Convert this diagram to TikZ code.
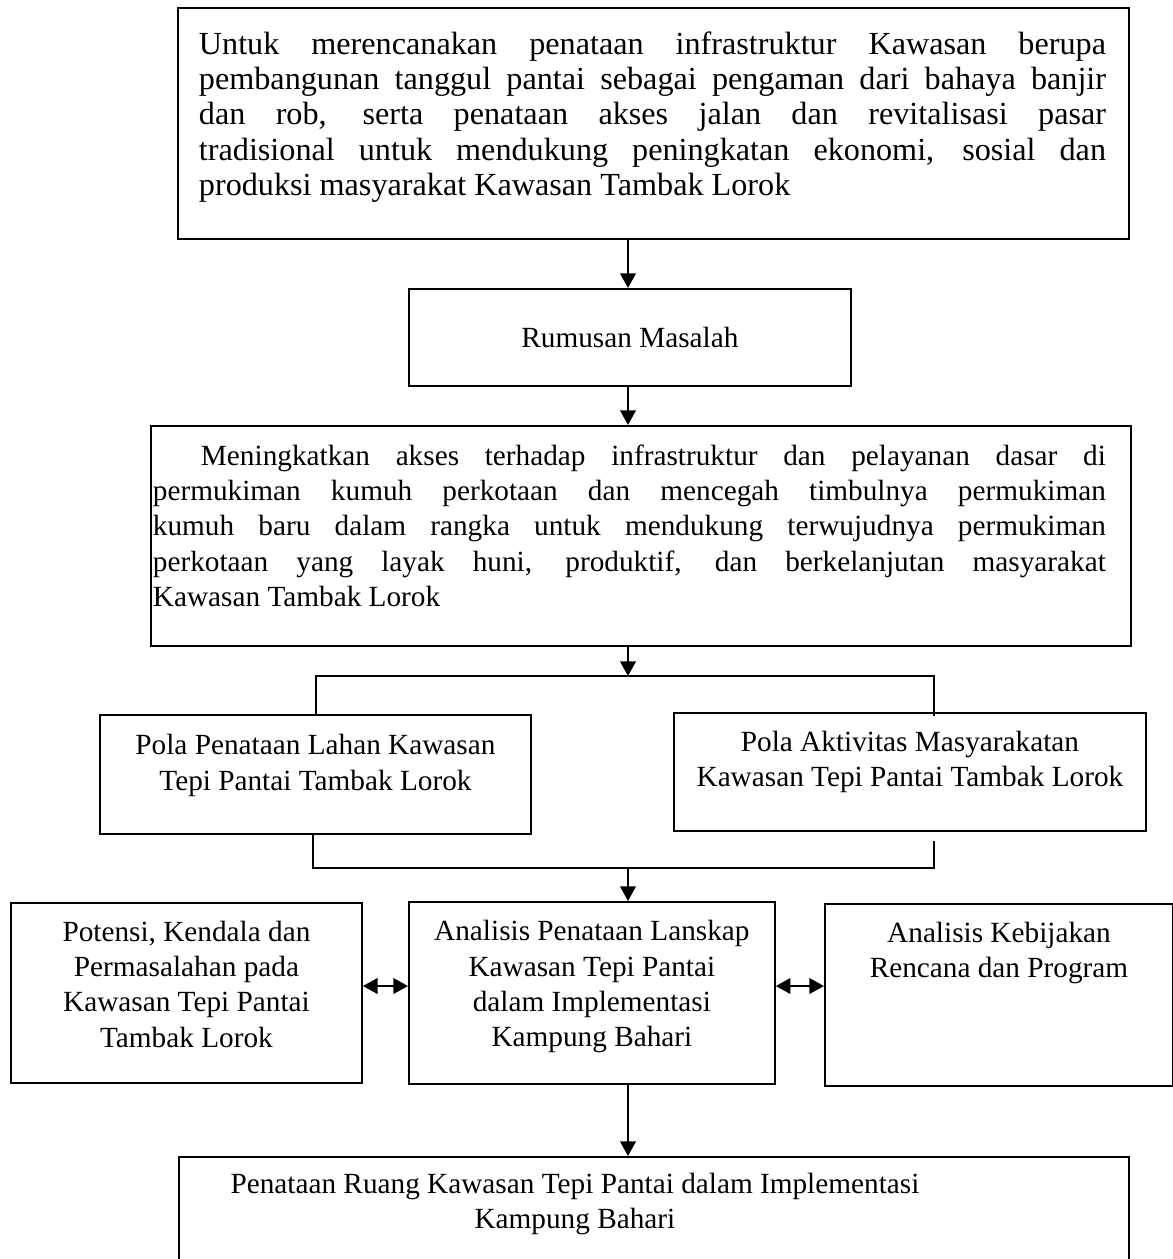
\documentclass[tikz,border=0pt]{standalone}
\usepackage{fontspec}
\setmainfont{Liberation Serif}
\usetikzlibrary{arrows.meta}
\usetikzlibrary{positioning}

% fixed-size cell: width, height, first baseline, alignment, text
\newcommand{\cellbox}[5]{\parbox[c][#2][t]{#1}{#4\rule{0pt}{#3}#5}}
\newcommand{\justtext}[2]{\leftskip=#1\relax\rightskip=#2\relax\tolerance=10000\hyphenpenalty=10000\relax}

\begin{document}
\begin{tikzpicture}[
  x = 0.41pt, y = -0.41pt,
  > = {Triangle[length=6pt,width=6.4pt]},
  box/.style = {draw, line width=0.8pt, inner sep=0pt, anchor=north west,
                font=\fontsize{12}{14.5}\selectfont},
  link/.style = {line width=0.8pt}
  ]
  \useasboundingbox (0,0) rectangle (1173,1259);

  \node[box,font=\fontsize{13.2}{14.5}\selectfont] (goal) at (177,7) {\cellbox{389.9pt}{94.7pt}{18.9pt}{\justtext{8.6pt}{9.4pt}}{%
    Untuk merencanakan penataan infrastruktur Kawasan berupa\linebreak
    pembangunan tanggul pantai sebagai pengaman dari bahaya banjir\linebreak
    dan rob, serta penataan akses jalan dan revitalisasi pasar\linebreak
    tradisional untuk mendukung peningkatan ekonomi, sosial dan\linebreak
    produksi masyarakat Kawasan Tambak Lorok}};
  \node[box] (problem) at (408,288) {\cellbox{181.2pt}{39.8pt}{23.8pt}{\centering}{Rumusan Masalah}};
  \node[box] (aim) at (150,425) {\cellbox{401.8pt}{90.2pt}{16pt}{\justtext{0.8pt}{10.3pt}}{%
    \hspace*{19.7pt}Meningkatkan akses terhadap infrastruktur dan pelayanan dasar di\linebreak
    permukiman kumuh perkotaan dan mencegah timbulnya permukiman\linebreak
    kumuh baru dalam rangka untuk mendukung terwujudnya permukiman\linebreak
    perkotaan yang layak huni, produktif, dan berkelanjutan masyarakat\linebreak
    Kawasan Tambak Lorok}};

  \node[box] (land) at (99,714) {\cellbox{176.7pt}{48.8pt}{16.4pt}{\centering}{Pola Penataan Lahan Kawasan\\ Tepi Pantai Tambak Lorok}};
  \node[box] (activity) at (673,712) {\cellbox{193.5pt}{48.4pt}{15.6pt}{\centering}{Pola Aktivitas Masyarakatan\\ Kawasan Tepi Pantai Tambak Lorok}};

  \node[box] (issues) at (10,902) {\cellbox{143.9pt}{73.8pt}{15.6pt}{\centering}{Potensi, Kendala dan\\ Permasalahan pada\\ Kawasan Tepi Pantai\\ Tambak Lorok}};
  \node[box] (analysis) at (408,901) {\cellbox{150pt}{74.6pt}{15.9pt}{\centering}{Analisis Penataan Lanskap\\ Kawasan Tepi Pantai\\ dalam Implementasi\\ Kampung Bahari}};
  \node[box] (policy) at (824,903) {\cellbox{142.7pt}{74.6pt}{15.6pt}{\centering}{Analisis Kebijakan\\ Rencana dan Program}};

  \node[box] (result) at (178,1156) {\cellbox{389.5pt}{43.5pt}{14.8pt}{\centering\rightskip=64.8pt plus 1fil\relax}{Penataan Ruang Kawasan Tepi Pantai dalam Implementasi\\ Kampung Bahari}};

  \coordinate (spine) at (628,0);
  \coordinate (splitL) at (316,676);
  \coordinate (splitR) at (934,676);
  \coordinate (mergeL) at (313,868);
  \coordinate (mergeR) at (934,868);
  \coordinate (side) at (0,986);

  \draw[link,->] (goal.south -| spine) -- (problem.north -| spine);
  \draw[link,->] (problem.south -| spine) -- (aim.north -| spine);
  \draw[link,->] (aim.south -| spine) -- (splitL -| spine);
  \draw[link] (land.north -| splitL) -- (splitL) -- (splitR) -- ([yshift=-1.6pt]splitR |- activity.north);
  \draw[link] (land.south -| mergeL) -- (mergeL) -- (mergeR) -- ([yshift=-3.7pt]mergeR |- activity.south);
  \draw[link,->] (mergeL -| spine) -- (analysis.north -| spine);
  \draw[link,<->] (issues.east |- side) -- (analysis.west |- side);
  \draw[link,<->] (analysis.east |- side) -- (policy.west |- side);
  \draw[link,->] (analysis.south -| spine) -- (result.north -| spine);
\end{tikzpicture}
\end{document}
